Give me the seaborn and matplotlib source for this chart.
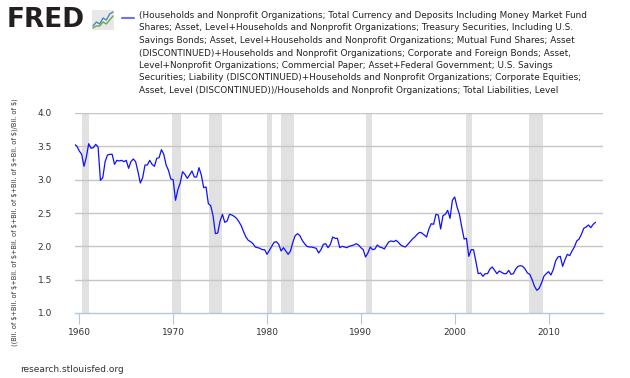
import numpy as np
import pandas as pd
import seaborn as sns
from matplotlib import pyplot as plt

# ratio of household assets (sum of series) to total liabilities, quarterly
values = [3.53, 3.50, 3.43, 3.38, 3.20, 3.34, 3.54, 3.47, 3.48, 3.53,
          3.49, 2.99, 3.03, 3.27, 3.37, 3.38, 3.38, 3.23, 3.29, 3.28,
          3.29, 3.27, 3.29, 3.17, 3.27, 3.31, 3.27, 3.12, 2.95, 3.03,
          3.22, 3.22, 3.29, 3.23, 3.20, 3.32, 3.33, 3.45, 3.38, 3.22,
          3.14, 3.01, 3.00, 2.69, 2.85, 2.95, 3.12, 3.08, 3.02, 3.07,
          3.13, 3.04, 3.04, 3.18, 3.07, 2.88, 2.89, 2.64, 2.61, 2.46,
          2.19, 2.20, 2.38, 2.48, 2.36, 2.38, 2.48, 2.47, 2.45, 2.42,
          2.37, 2.31, 2.22, 2.14, 2.09, 2.07, 2.04, 1.99, 1.98, 1.97,
          1.95, 1.95, 1.88, 1.94, 2.00, 2.06, 2.07, 2.03, 1.93, 1.98,
          1.93, 1.88, 1.93, 2.06, 2.16, 2.19, 2.16, 2.09, 2.04, 2.00,
          1.99, 1.99, 1.98, 1.97, 1.90, 1.95, 2.03, 2.04, 1.98, 2.03,
          2.14, 2.12, 2.12, 1.98, 2.00, 1.99, 1.98, 2.00, 2.01, 2.02,
          2.04, 2.02,
          1.98, 1.95, 1.84, 1.90, 1.99, 1.95, 1.96, 2.02, 1.99, 1.98,
          1.96, 2.02, 2.07, 2.08, 2.07, 2.09, 2.06, 2.02, 2.00, 1.99,
          2.03, 2.07, 2.11, 2.14, 2.18, 2.21, 2.20, 2.17, 2.14, 2.26,
          2.34, 2.33, 2.48, 2.47, 2.26, 2.46, 2.48, 2.54, 2.42, 2.69,
          2.74, 2.59, 2.48, 2.29, 2.11, 2.12, 1.85, 1.95, 1.95, 1.78,
          1.59, 1.60, 1.55, 1.59, 1.59, 1.66, 1.69, 1.64, 1.59, 1.63,
          1.61, 1.59, 1.59, 1.64, 1.58, 1.59, 1.66, 1.70, 1.71, 1.70,
          1.66, 1.60, 1.58, 1.50, 1.40, 1.34, 1.37, 1.45, 1.55, 1.59,
          1.62, 1.57, 1.65, 1.78, 1.84, 1.85, 1.70, 1.80, 1.88, 1.86,
          1.93, 1.99, 2.08, 2.11, 2.18, 2.27, 2.29, 2.32, 2.28, 2.33,
          2.36]
dates = pd.date_range('1959-07-01', periods=len(values), freq='QS')

# NBER recessions (start, end) in decimal years
recessions = [(1960.25, 1961.08), (1969.92, 1970.83), (1973.83, 1975.17),
              (1980.0, 1980.5), (1981.5, 1982.83), (1990.5, 1991.17),
              (2001.17, 2001.83), (2007.92, 2009.42)]

x_ticks = [1960, 1970, 1980, 1990, 2000, 2010]
y_ticks = [1.0, 1.5, 2.0, 2.5, 3.0, 3.5, 4.0]

legend_text = ("(Households and Nonprofit Organizations; Total Currency and Deposits Including Money Market Fund\n"
               "Shares; Asset, Level+Households and Nonprofit Organizations; Treasury Securities, Including U.S.\n"
               "Savings Bonds; Asset, Level+Households and Nonprofit Organizations; Mutual Fund Shares; Asset\n"
               "(DISCONTINUED)+Households and Nonprofit Organizations; Corporate and Foreign Bonds; Asset,\n"
               "Level+Nonprofit Organizations; Commercial Paper; Asset+Federal Government; U.S. Savings\n"
               "Securities; Liability (DISCONTINUED)+Households and Nonprofit Organizations; Corporate Equities;\n"
               "Asset, Level (DISCONTINUED))/Households and Nonprofit Organizations; Total Liabilities, Level")
y_label = r"((Bil. of \$+Bil. of \$+Bil. of \$+Bil. of \$+Bil. of \$+Bil. of \$+Bil. of \$)/Bil. of \$)"

df = pd.DataFrame({'year': dates.year + (dates.month - 1) / 12, 'value': values})

sns.set_style('white')
fig = plt.figure(figsize=(6.3, 3.78), dpi=100)
ax = fig.add_axes([75/630, 1 - 313/378, 528/630, 200/378])

for start, end in recessions:
    ax.axvspan(start, end, color='#e1e1e1', lw=0, zorder=0)
for v in y_ticks[1:]:
    ax.axhline(v, color='#c6c6c6', lw=1, zorder=1)

sns.lineplot(data=df, x='year', y='value', color='#1010ff', lw=0.9, ax=ax, zorder=3)

ax.set_xlim(1959.54, 2015.8)
ax.set_ylim(1.0, 4.0)
ax.set_xticks(x_ticks)
ax.set_yticks(y_ticks)
ax.set_xticklabels([str(t) for t in x_ticks])
ax.set_yticklabels([f'{t:.1f}' for t in y_ticks])
ax.set_xlabel('')
ax.set_ylabel(y_label, fontsize=4.8, color='#333333')
ax.yaxis.set_label_coords(-0.108, 0.455)
for s in ['top', 'right', 'left']:
    ax.spines[s].set_visible(False)
ax.spines['bottom'].set_color('#b4c6dc')
ax.spines['bottom'].set_linewidth(1)
ax.tick_params(axis='x', bottom=True, direction='out', length=8, color='#b4c6dc',
               labelsize=6.5, labelcolor='#333333', pad=3)
ax.tick_params(axis='y', left=False, labelsize=6.5, labelcolor='#333333', pad=13)

# legend above plot
fig.add_artist(plt.Line2D([122/630, 134/630], [1 - 18/378, 1 - 18/378],
                          color='#7070f0', lw=1.5, transform=fig.transFigure))
fig.text(139/630, 1 - 11/378, legend_text, fontsize=6.4, family='Liberation Sans Narrow',
         color='#222222', va='top', ha='left', linespacing=1.5)

# FRED logo
fig.text(7/630, 1 - 20/378, 'FRED', fontsize=19, fontweight='heavy', color='#231f20',
         va='center', ha='left', family='DejaVu Sans')
logo_x = [0, 1, 2, 3, 4, 5, 6]
logo_blue = [1, 3, 2, 5, 4, 7, 8]
logo_green = [0, 1, 1, 3, 2, 4, 6]
lax = fig.add_axes([92/630, 1 - 30/378, 22/630, 20/378])
lax.set_facecolor('#e8e8e8')
lax.plot(logo_x, logo_blue, color='#4a86c5', lw=1)
lax.plot(logo_x, logo_green, color='#6aa84f', lw=1)
lax.set_xticks([])
lax.set_yticks([])
for s in lax.spines.values():
    s.set_visible(False)
lax.set_ylim(-1, 9)

fig.text(20/630, 1 - 370/378, 'research.stlouisfed.org', fontsize=6.5, color='#333333',
         va='center', ha='left')

fig.savefig('out.png', dpi=100)
